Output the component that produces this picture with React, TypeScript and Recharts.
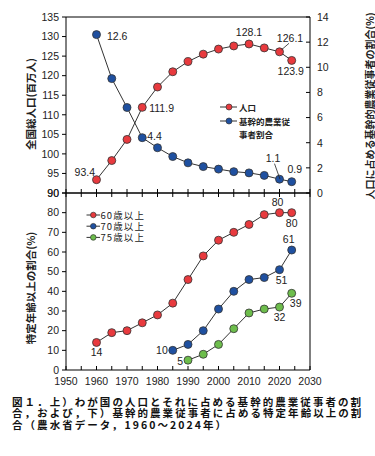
import React from 'react';
import { LineChart, Line, XAxis, YAxis, ReferenceLine } from 'recharts';

const years = [1960, 1965, 1970, 1975, 1980, 1985, 1990, 1995, 2000, 2005, 2010, 2015, 2020, 2024];
const population = [93.4, 98.3, 103.7, 111.9, 117.1, 121.0, 123.6, 125.5, 126.8, 127.6, 128.1, 127.1, 126.1, 123.9];
const farmerShare = [12.6, 9.1, 6.8, 4.4, 3.6, 2.9, 2.4, 2.1, 1.9, 1.7, 1.6, 1.4, 1.1, 0.9];
const over60 = [14, 19, 20, 24, 28, 34, 46, 58, 66, 70, 74, 79, 80, 80];
const over70 = [null, null, null, null, null, 10, 13, 20, 31, 40, 46, 47, 51, 61];
const over75 = [null, null, null, null, null, null, 5, 8, 13, 21, 29, 31, 32, 39];

const xTicks = [1950, 1955, 1960, 1965, 1970, 1975, 1980, 1985, 1990, 1995, 2000, 2005, 2010, 2015, 2020, 2025, 2030];
const popTicks = [90, 95, 100, 105, 110, 115, 120, 125, 130, 135];
const shareTicks = [0, 2, 4, 6, 8, 10, 12, 14];
const ageTicks = [0, 10, 20, 30, 40, 50, 60, 70, 80, 90];

const topData = years.map((year, i) => ({ year, pop: population[i], share: farmerShare[i] }));
const ageData = years.map((year, i) => ({ year, a60: over60[i], a70: over70[i], a75: over75[i] }));

const RED = '#e83a3e';
const BLUE = '#1f50a0';
const GREEN = '#6dbd4c';
const INK = '#222';
const JP = '"Noto Sans CJK JP", sans-serif';

type Spec = { dx: number; dy: number; anchor: 'start' | 'middle' | 'end'; leader?: number[] };

// which points carry a value label, and where it sits relative to the dot
const popLabels: Record<number, Spec> = {
  0: { dx: -1.5, dy: -3.5, anchor: 'end' },
  3: { dx: 7, dy: 5, anchor: 'start' },
  10: { dx: 0, dy: -7.5, anchor: 'middle' },
  12: { dx: 10.5, dy: -10, anchor: 'middle', leader: [2, -2, 9.5, -8.5] },
  13: { dx: -1, dy: 15, anchor: 'middle' },
};
const shareLabels: Record<number, Spec> = {
  0: { dx: 10.5, dy: 5, anchor: 'start' },
  3: { dx: 5, dy: 2, anchor: 'start' },
  12: { dx: -6.5, dy: -17.5, anchor: 'middle', leader: [-5, -15.5, 0.5, 0] },
  13: { dx: 3, dy: -9, anchor: 'middle' },
};
const a60Labels: Record<number, Spec> = {
  0: { dx: 0, dy: 14, anchor: 'middle' },
  12: { dx: -2, dy: -7, anchor: 'middle' },
  13: { dx: 0, dy: 14, anchor: 'middle' },
};
const a70Labels: Record<number, Spec> = {
  5: { dx: -5, dy: 4, anchor: 'end' },
  12: { dx: 2, dy: 14.5, anchor: 'middle' },
  13: { dx: -3, dy: -7.5, anchor: 'middle' },
};
const a75Labels: Record<number, Spec> = {
  6: { dx: -5, dy: 5, anchor: 'end' },
  12: { dx: 0, dy: 14, anchor: 'middle' },
  13: { dx: 4, dy: 14, anchor: 'middle' },
};

const makeLabel = (specs: Record<number, Spec>, digits: number) => (p: any) => {
  const s = specs[p.index];
  if (!s || p.value == null) return null;
  const x = Number(p.x);
  const y = Number(p.y);
  return (
    <g key={`lb-${p.index}`}>
      {s.leader && (
        <line x1={x + s.leader[0]} y1={y + s.leader[1]} x2={x + s.leader[2]} y2={y + s.leader[3]} stroke={INK} strokeWidth={0.8} />
      )}
      <text x={x + s.dx} y={y + s.dy} textAnchor={s.anchor} fontSize={10.5} fill={INK}>
        {Number(p.value).toFixed(digits)}
      </text>
    </g>
  );
};

const dotStyle = (fill: string) => ({ r: 4, fill, stroke: '#333', strokeWidth: 0.8 });

const UpTick = (p: any) => <line x1={p.x} y1={p.y} x2={p.x} y2={p.y - 4} stroke="#000" />;
const DownTick = (p: any) => <line x1={p.x} y1={p.y} x2={p.x} y2={p.y + 4} stroke="#000" />;
const BottomTick = (p: any) => (
  <g>
    <line x1={p.x} y1={p.y} x2={p.x} y2={p.y - 4} stroke="#000" />
    {p.payload.value % 10 === 0 && (
      <text x={p.x} y={p.y + 14.5} textAnchor="middle" fontSize={10.5} fill={INK}>
        {p.payload.value}
      </text>
    )}
  </g>
);
const RightTick = (p: any) => (
  <g>
    <line x1={p.x} y1={p.y} x2={p.x - 4} y2={p.y} stroke="#000" />
    <text x={p.x + 7} y={p.y + 3.8} textAnchor="start" fontSize={10.5} fill={INK}>
      {p.payload.value}
    </text>
  </g>
);

const axisProps = { stroke: '#000', strokeWidth: 1 };

export default function App() {
  return (
    <div
      style={{
        position: 'absolute',
        left: 0,
        top: 0,
        width: 375,
        height: 456,
        background: '#fff',
        fontFamily: '"Liberation Sans", Arial, "Noto Sans CJK JP", sans-serif',
      }}
    >
      <div style={{ position: 'absolute', left: 0, top: 0 }}>
        <LineChart width={375} height={200} data={topData} margin={{ top: 17, right: 0, bottom: 0, left: 16 }}>
          <XAxis
            dataKey="year"
            type="number"
            domain={[1950, 2030]}
            ticks={xTicks}
            interval={0}
            height={7}
            tickSize={0}
            tickMargin={0}
            tickLine={false}
            axisLine={axisProps}
            tick={UpTick}
          />
          <YAxis
            yAxisId="left"
            domain={[90, 135]}
            ticks={popTicks}
            interval={0}
            width={50}
            tickSize={4}
            tickMargin={3}
            axisLine={axisProps}
            tickLine={axisProps}
            tick={{ fontSize: 10.5, fill: INK }}
          />
          <YAxis
            yAxisId="right"
            orientation="right"
            domain={[0, 14]}
            ticks={shareTicks}
            interval={0}
            width={65}
            tickSize={0}
            tickMargin={0}
            tickLine={false}
            axisLine={axisProps}
            tick={RightTick}
          />
          <ReferenceLine yAxisId="left" y={135} stroke="#000" />
          <Line
            yAxisId="right"
            dataKey="share"
            stroke="#333"
            strokeWidth={1}
            dot={dotStyle(BLUE)}
            label={makeLabel(shareLabels, 1)}
            isAnimationActive={false}
          />
          <Line
            yAxisId="left"
            dataKey="pop"
            stroke="#333"
            strokeWidth={1}
            dot={dotStyle(RED)}
            label={makeLabel(popLabels, 1)}
            isAnimationActive={false}
          />
        </LineChart>
      </div>

      <div style={{ position: 'absolute', left: 0, top: 186 }}>
        <LineChart width={375} height={210} data={ageData} margin={{ top: 0, right: 65, bottom: 0, left: 16 }}>
          <XAxis
            xAxisId="top"
            orientation="top"
            dataKey="year"
            type="number"
            domain={[1950, 2030]}
            ticks={xTicks}
            interval={0}
            height={7}
            tickSize={0}
            tickMargin={0}
            tickLine={false}
            axisLine={axisProps}
            tick={DownTick}
          />
          <XAxis
            dataKey="year"
            type="number"
            domain={[1950, 2030]}
            ticks={xTicks}
            interval={0}
            height={26}
            tickSize={0}
            tickMargin={0}
            tickLine={false}
            axisLine={axisProps}
            tick={BottomTick}
          />
          <YAxis
            domain={[0, 90]}
            ticks={ageTicks}
            interval={0}
            width={50}
            tickSize={4}
            tickMargin={3}
            axisLine={axisProps}
            tickLine={axisProps}
            tick={{ fontSize: 10.5, fill: INK }}
          />
          <ReferenceLine x={2030} stroke="#000" />
          <Line dataKey="a75" stroke="#333" strokeWidth={1} dot={dotStyle(GREEN)} label={makeLabel(a75Labels, 0)} isAnimationActive={false} />
          <Line dataKey="a70" stroke="#333" strokeWidth={1} dot={dotStyle(BLUE)} label={makeLabel(a70Labels, 0)} isAnimationActive={false} />
          <Line dataKey="a60" stroke="#333" strokeWidth={1} dot={dotStyle(RED)} label={makeLabel(a60Labels, 0)} isAnimationActive={false} />
        </LineChart>
      </div>

      <svg width={375} height={456} style={{ position: 'absolute', left: 0, top: 0, pointerEvents: 'none' }}>
        <g fontFamily={JP} fontWeight={700} fontSize={10.5} fill={INK}>
          <text transform="translate(30,104) rotate(-90)" textAnchor="middle" dominantBaseline="central">
            全国総人口(百万人)
          </text>
          <text transform="translate(369,106) rotate(-90)" textAnchor="middle" dominantBaseline="central" fontSize={10}>
            人口に占める基幹的農業従事者の割合(%)
          </text>
          <text transform="translate(30,288) rotate(-90)" textAnchor="middle" dominantBaseline="central">
            特定年齢以上の割合(%)
          </text>
        </g>

        <g fontFamily={JP} fontWeight={700} fontSize={8.5} fill={INK}>
          <line x1={220} x2={237} y1={107} y2={107} stroke="#333" />
          <circle cx={229} cy={107} r={3} fill={RED} stroke="#333" strokeWidth={0.7} />
          <text x={239} y={107} dominantBaseline="central">人口</text>
          <line x1={220} x2={237} y1={121} y2={121} stroke="#333" />
          <circle cx={229} cy={121} r={3} fill={BLUE} stroke="#333" strokeWidth={0.7} />
          <text x={239} y={121} dominantBaseline="central">基幹的農業従</text>
          <text x={239} y={133.5} dominantBaseline="central">事者割合</text>
        </g>

        <g fontFamily={JP} fontSize={9.5} letterSpacing={1.1} fill={INK}>
          {[
            { c: RED, t: '60歳以上', y: 215 },
            { c: BLUE, t: '70歳以上', y: 226.2 },
            { c: GREEN, t: '75歳以上', y: 237.4 },
          ].map((d) => (
            <g key={d.t}>
              <line x1={86.5} x2={100} y1={d.y} y2={d.y} stroke="#333" />
              <circle cx={93.3} cy={d.y} r={2.8} fill={d.c} stroke="#333" strokeWidth={0.7} />
              <text x={100.5} y={d.y} dominantBaseline="central">{d.t}</text>
            </g>
          ))}
        </g>
      </svg>

      <div
        style={{
          position: 'absolute',
          left: 12,
          top: 395.5,
          fontFamily: JP,
          fontWeight: 700,
          fontSize: 10.5,
          letterSpacing: 2.05,
          lineHeight: '11.6px',
          whiteSpace: 'nowrap',
          color: '#111',
        }}
      >
        <div>図１．上）わが国の人口とそれに占める基幹的農業従事者の割</div>
        <div>合，および，下）基幹的農業従事者に占める特定年齢以上の割</div>
        <div>合（農水省データ，1960～2024年）</div>
      </div>
    </div>
  );
}
